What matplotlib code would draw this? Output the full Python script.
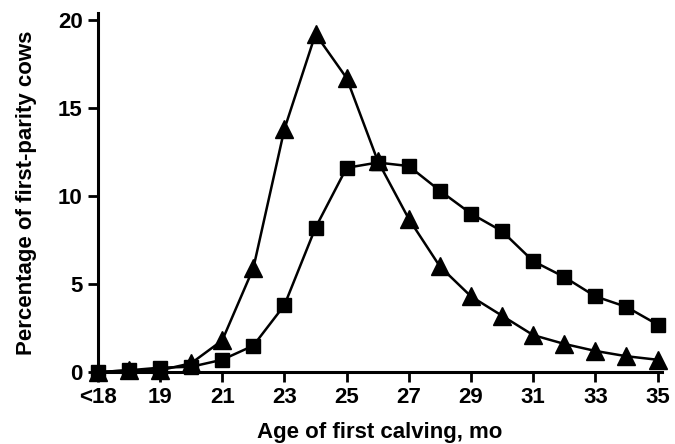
import matplotlib
matplotlib.use("Agg")
import matplotlib.pyplot as plt

plt.rcParams['font.family'] = ['Liberation Sans', 'DejaVu Sans']
plt.rcParams['font.weight'] = 'bold'

# age of first calving (17 stands for "<18")
ages = [17, 18, 19, 20, 21, 22, 23, 24, 25, 26, 27, 28, 29, 30, 31, 32, 33, 34, 35]
triangles = [0.0, 0.1, 0.1, 0.5, 1.8, 5.9, 13.8, 19.2, 16.7, 12.0, 8.7, 6.0, 4.3, 3.2, 2.1, 1.6, 1.2, 0.9, 0.7]
squares = [0.0, 0.1, 0.25, 0.3, 0.7, 1.5, 3.8, 8.2, 11.6, 11.9, 11.7, 10.3, 9.0, 8.0, 6.3, 5.4, 4.3, 3.7, 2.7]

xticks = [17, 19, 21, 23, 25, 27, 29, 31, 33, 35]
xticklabels = ['<18', '19', '21', '23', '25', '27', '29', '31', '33', '35']
yticks = [0, 5, 10, 15, 20]

fig = plt.figure(figsize=(6.75, 4.44), dpi=100)
ax = fig.add_axes([0.145, 0.162, 0.836, 0.809])

ax.plot(ages, triangles, color='black', lw=1.8, marker='^', ms=13, clip_on=False, zorder=3)
ax.plot(ages, squares, color='black', lw=1.8, marker='s', ms=10, clip_on=False, zorder=4)

ax.set_xlim(17, 35.15)
ax.set_ylim(0, 20.4)
ax.set_xticks(xticks)
ax.set_xticklabels(xticklabels)
ax.set_yticks(yticks)

for side in ['top', 'right']:
    ax.spines[side].set_visible(False)
for side in ['left', 'bottom']:
    ax.spines[side].set_linewidth(2.2)

ax.tick_params(direction='out', length=7, width=2, labelsize=16, pad=4)
for lab in ax.get_xticklabels() + ax.get_yticklabels():
    lab.set_fontweight('bold')

ax.set_xlabel('Age of first calving, mo', fontsize=16, fontweight='bold', labelpad=10)
ax.set_ylabel('Percentage of first-parity cows', fontsize=16, fontweight='bold', labelpad=15)

fig.savefig('out.png', dpi=100)
